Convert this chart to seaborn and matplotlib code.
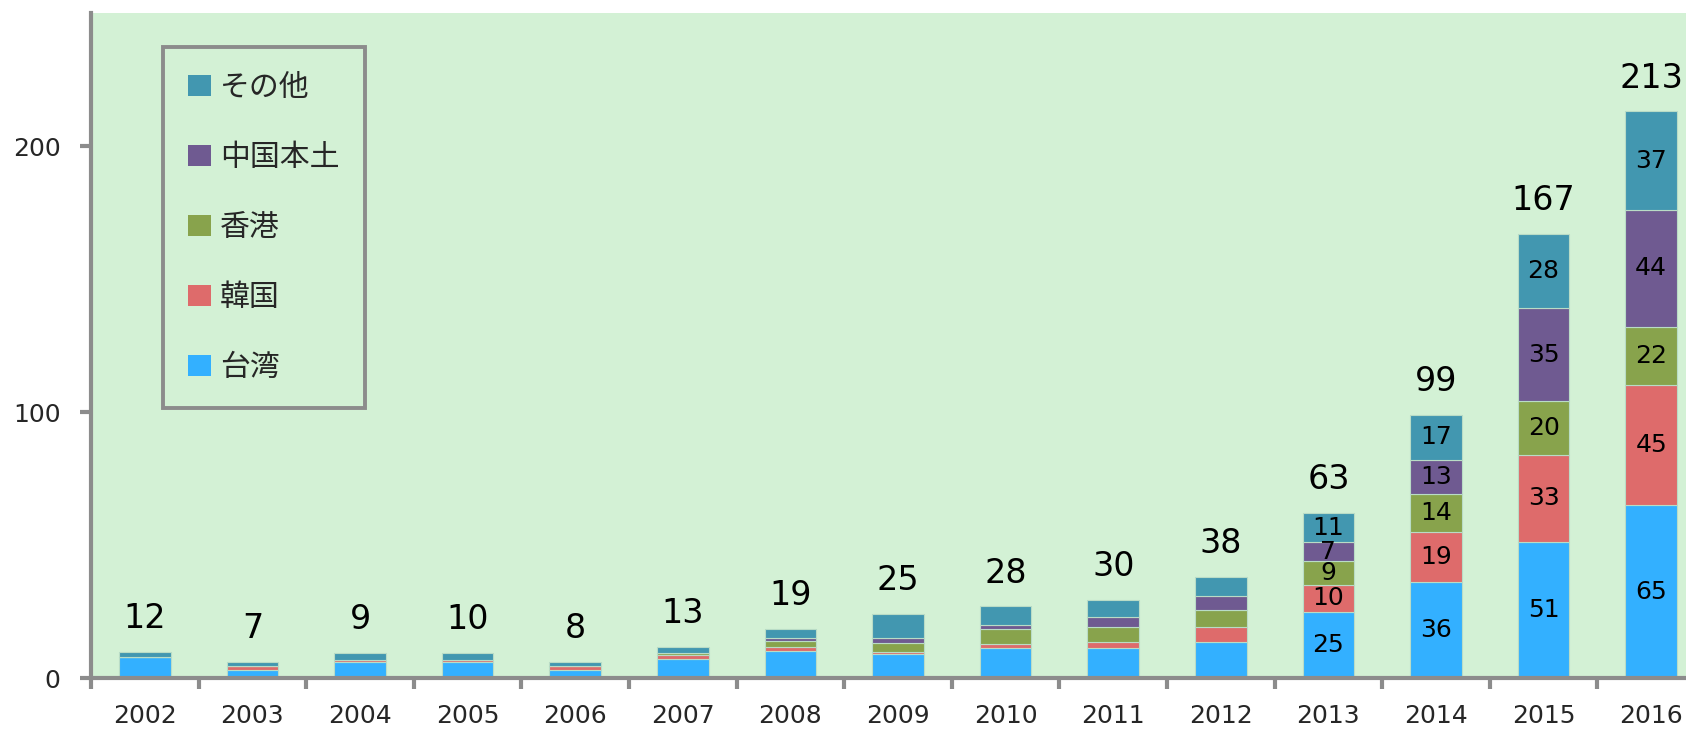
import numpy as np
import pandas as pd
import matplotlib
matplotlib.use('Agg')
import matplotlib.pyplot as plt
from matplotlib.patches import Patch
import seaborn as sns

# データ
years = ['2002', '2003', '2004', '2005', '2006', '2007', '2008', '2009',
         '2010', '2011', '2012', '2013', '2014', '2015', '2016']
taiwan = [8, 3, 6, 6, 3, 7, 10, 9, 11.2, 11.3, 13.6, 25, 36, 51, 65]
korea = [0, 1.4, 0.9, 0.9, 1.4, 1.5, 1.5, 0.8, 1.6, 2.4, 5.6, 10, 19, 33, 45]
hongkong = [0, 0, 0, 0, 0, 0.9, 2.5, 3.4, 5.5, 5.5, 6.3, 9, 14, 20, 22]
china = [0, 0, 0, 0, 0, 0, 1.2, 2, 1.6, 3.9, 5.4, 7, 13, 35, 44]
other = [1.8, 1.8, 2.4, 2.4, 1.8, 2.4, 3.3, 8.8, 7, 6.3, 7.2, 11, 17, 28, 37]
total_labels = ['12', '7', '9', '10', '8', '13', '19', '25',
                '28', '30', '38', '63', '99', '167', '213']
labeled_years = ['2013', '2014', '2015', '2016']

series_names = ['台湾', '韓国', '香港', '中国本土', 'その他']
series_values = [taiwan, korea, hongkong, china, other]
colors = ['#33B0FF', '#DE6B6B', '#88A34C', '#6F5A91', '#4297B0']

sns.set_style('white')
plt.rcParams['font.family'] = ['DejaVu Sans', 'Noto Sans CJK JP']

fig = plt.figure(figsize=(16.86, 7.31), dpi=100)
ax = fig.add_axes([91 / 1686, 1 - 678 / 731, (1705 - 91) / 1686, (678 - 13) / 731])
ax.set_facecolor('#D3F1D5')

df = pd.DataFrame({'year': years})
bottom = np.zeros(len(years))
for name, vals, c in zip(series_names, series_values, colors):
    vals = np.array(vals, dtype=float)
    sns.barplot(x=df['year'], y=vals, bottom=bottom, color=c, width=0.48,
                saturation=1, edgecolor='#b9dcc6', linewidth=0.8, ax=ax,
                errorbar=None)
    # 区分ごとの数値 (2013年以降)
    for i, y in enumerate(years):
        if y in labeled_years and vals[i] > 0:
            ax.text(i, bottom[i] + vals[i] / 2, f'{vals[i]:.0f}', ha='center',
                    va='center', fontsize=18, color='black')
    bottom = bottom + vals

# 合計ラベル
for i, lab in enumerate(total_labels):
    ax.annotate(lab, (i, bottom[i]), xytext=(0, 24), textcoords='offset points',
                ha='center', va='center', fontsize=24, color='black')

ax.set_xlim(-0.5, 14.5)
ax.set_ylim(0, 250)
ax.set_yticks([0, 100, 200])
ax.set_xlabel('')
ax.set_ylabel('')

gray = '#8c8c8c'
for s in ['top', 'right']:
    ax.spines[s].set_visible(False)
for s in ['left', 'bottom']:
    ax.spines[s].set_color(gray)
    ax.spines[s].set_linewidth(3)

ax.tick_params(axis='y', length=8, width=3, color=gray, direction='out',
               labelsize=18, pad=14, left=True)
ax.tick_params(axis='x', which='major', length=0, labelsize=18, pad=19)
ax.set_xticks(np.arange(-0.5, 15, 1), minor=True)
ax.tick_params(axis='x', which='minor', length=8, width=3, color=gray,
               direction='out', bottom=True)

handles = [Patch(facecolor=c, edgecolor='none') for c in colors][::-1]
leg = ax.legend(handles, series_names[::-1], loc='upper left',
                bbox_to_anchor=(163 / 1686, 1 - 47 / 731),
                bbox_transform=fig.transFigure, borderaxespad=0,
                frameon=True, fancybox=False,
                handlelength=0.75, handleheight=0.7, handletextpad=0.3,
                labelspacing=1.3, borderpad=0.85,
                prop={'family': ['Noto Sans CJK JP'], 'size': 21.5})
frame = leg.get_frame()
frame.set_edgecolor(gray)
frame.set_linewidth(2.8)
frame.set_facecolor('#D3F1D5')
frame.set_alpha(None)

fig.savefig('out.png', dpi=100)
